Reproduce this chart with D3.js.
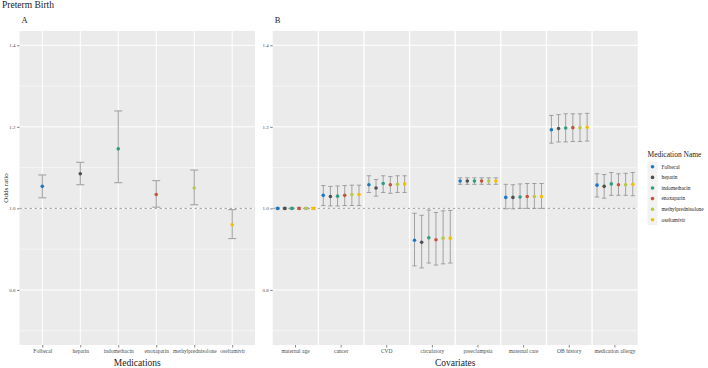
<!DOCTYPE html>
<html>
<head>
<meta charset="utf-8">
<script src="https://cdn.jsdelivr.net/npm/d3@7"></script>
<style>
    body { margin: 0; background: #ffffff; }
    svg { display: block; font-family: "Liberation Serif", "DejaVu Serif", serif; }
</style>
</head>
<body>
<div id="chart"></div>
<script>
// Panel A: odds ratio per medication
const medications = ["Folbecal", "heparin", "indomethacin", "enoxaparin", "methylprednisolone", "oseltamivir"];
const medOR = [1.054, 1.085, 1.146, 1.034, 1.050, 0.960];
const medLower = [1.026, 1.058, 1.063, 1.003, 1.009, 0.926];
const medUpper = [1.082, 1.113, 1.239, 1.068, 1.094, 0.997];

// Panel B: odds ratio per covariate, one value per medication (same order as above)
const covariates = ["maternal age", "cancer", "CVD", "circulatory", "preeclampsia", "maternal care", "OB history", "medication allergy"];
const covOR = [
    [1.000, 1.000, 1.000, 1.000, 1.000, 1.000],
    [1.032, 1.029, 1.030, 1.032, 1.034, 1.034],
    [1.058, 1.050, 1.061, 1.058, 1.059, 1.060],
    [0.922, 0.917, 0.928, 0.923, 0.927, 0.927],
    [1.067, 1.067, 1.067, 1.067, 1.067, 1.067],
    [1.027, 1.027, 1.028, 1.029, 1.029, 1.029],
    [1.193, 1.196, 1.197, 1.198, 1.198, 1.199],
    [1.057, 1.054, 1.060, 1.058, 1.058, 1.059]
];
const covLower = [
    [0.998, 0.998, 0.998, 0.998, 0.998, 0.998],
    [1.007, 1.006, 1.006, 1.007, 1.007, 1.007],
    [1.039, 1.030, 1.039, 1.037, 1.039, 1.039],
    [0.859, 0.854, 0.866, 0.861, 0.864, 0.866],
    [1.059, 1.059, 1.059, 1.059, 1.059, 1.059],
    [0.999, 0.999, 1.000, 1.000, 1.000, 1.000],
    [1.160, 1.163, 1.163, 1.164, 1.164, 1.165],
    [1.028, 1.025, 1.032, 1.032, 1.032, 1.031]
];
const covUpper = [
    [1.002, 1.002, 1.002, 1.002, 1.002, 1.002],
    [1.056, 1.054, 1.055, 1.056, 1.057, 1.057],
    [1.080, 1.071, 1.080, 1.078, 1.080, 1.080],
    [0.988, 0.983, 0.996, 0.990, 0.994, 0.995],
    [1.075, 1.075, 1.075, 1.075, 1.075, 1.075],
    [1.059, 1.058, 1.060, 1.061, 1.061, 1.061],
    [1.228, 1.230, 1.232, 1.232, 1.232, 1.233],
    [1.085, 1.083, 1.088, 1.085, 1.086, 1.088]
];

const yTicks = [0.8, 1.0, 1.2, 1.4];
const yMinor = [0.7, 0.9, 1.1, 1.3];
const medColors = ["#1f78c1", "#4f4f4f", "#2f9e7e", "#c4553b", "#b7c94a", "#f2c000"];

const width = 708, height = 368;
const panelTop = 31, panelBottom = 345;

createChart();

function createChart() {
    const svg = d3.select("#chart").append("svg")
        .attr("width", width)
        .attr("height", height);

    const y = d3.scaleLinear().domain([0.665, 1.435]).range([panelBottom, panelTop]);
    const color = d3.scaleOrdinal().domain(medications).range(medColors);

    svg.append("text").attr("x", 2).attr("y", 8).attr("font-size", 9.5).attr("fill", "#222").text("Preterm Birth");

    drawPanelA(svg, y, color);
    drawPanelB(svg, y, color);
    drawLegend(svg, color);
}

//Helper Functions

function drawPanelBase(svg, x0, x1, y, label) {
    svg.append("rect")
        .attr("x", x0).attr("y", panelTop)
        .attr("width", x1 - x0).attr("height", panelBottom - panelTop)
        .attr("fill", "#ebebeb");

    svg.append("g").selectAll("line").data(yMinor).enter().append("line")
        .attr("x1", x0).attr("x2", x1)
        .attr("y1", d => y(d)).attr("y2", d => y(d))
        .attr("stroke", "#ffffff").attr("stroke-width", 0.5);

    svg.append("g").selectAll("line").data(yTicks).enter().append("line")
        .attr("x1", x0).attr("x2", x1)
        .attr("y1", d => y(d)).attr("y2", d => y(d))
        .attr("stroke", "#ffffff").attr("stroke-width", 1);

    // y axis
    const axis = svg.append("g")
        .attr("transform", `translate(${x0},0)`)
        .call(d3.axisLeft(y).tickValues(yTicks).tickFormat(d3.format(".1f")).tickSize(2.5).tickPadding(1.5))
        .attr("font-family", null);
    axis.select(".domain").remove();
    axis.selectAll("line").attr("stroke", "#333").attr("stroke-width", 0.6);
    axis.selectAll("text").attr("font-size", 5).attr("fill", "#4d4d4d");

    svg.append("text")
        .attr("x", x0 + 2).attr("y", panelTop - 8)
        .attr("font-size", 8.5).attr("fill", "#222")
        .text(label);
}

function drawReference(svg, x0, x1, y) {
    svg.append("line")
        .attr("x1", x0).attr("x2", x1)
        .attr("y1", y(1)).attr("y2", y(1))
        .attr("stroke", "#7a7a7a").attr("stroke-width", 0.7)
        .attr("stroke-dasharray", "2.5,2.5");
}

function drawPanelA(svg, y, color) {
    const x0 = 19.5, x1 = 255;
    drawPanelBase(svg, x0, x1, y, "A");

    const x = d3.scalePoint().domain(medications).range([x0, x1]).padding(0.6);

    svg.append("g").selectAll("line").data(medications).enter().append("line")
        .attr("x1", d => x(d)).attr("x2", d => x(d))
        .attr("y1", panelTop).attr("y2", panelBottom)
        .attr("stroke", "#ffffff").attr("stroke-width", 1);

    drawReference(svg, x0, x1, y);

    const rows = medications.map((m, i) => ({ name: m, or: medOR[i], lo: medLower[i], hi: medUpper[i], x: x(m) }));
    drawErrorBars(svg, rows, y, color, 4, "#a3a3a3", 1.1);

    const axis = svg.append("g")
        .attr("transform", `translate(0,${panelBottom})`)
        .call(d3.axisBottom(x).tickSize(2.5).tickPadding(1.5));
    styleXAxis(axis);

    svg.append("text")
        .attr("x", (x0 + x1) / 2).attr("y", 366)
        .attr("text-anchor", "middle")
        .attr("font-size", 9.5).attr("fill", "#222")
        .text("Medications");
}

function drawPanelB(svg, y, color) {
    const x0 = 272.7, x1 = 637.7;
    drawPanelBase(svg, x0, x1, y, "B");

    const band = d3.scaleBand().domain(covariates).range([x0, x1]);
    const inner = d3.scalePoint().domain(medications).range([0, band.bandwidth()]).padding(0.69);

    svg.append("g").selectAll("line").data(covariates.slice(1)).enter().append("line")
        .attr("x1", d => band(d)).attr("x2", d => band(d))
        .attr("y1", panelTop).attr("y2", panelBottom)
        .attr("stroke", "#ffffff").attr("stroke-width", 1.3);

    drawReference(svg, x0, x1, y);

    const rows = [];
    covariates.forEach((c, ci) => {
        medications.forEach((m, mi) => {
            rows.push({ name: m, or: covOR[ci][mi], lo: covLower[ci][mi], hi: covUpper[ci][mi], x: band(c) + inner(m) });
        });
    });
    drawErrorBars(svg, rows, y, color, 2.2, "#8f8f8f", 0.8);

    const axis = svg.append("g")
        .attr("transform", `translate(0,${panelBottom})`)
        .call(d3.axisBottom(band).tickSize(2.5).tickPadding(1.5));
    styleXAxis(axis);

    svg.append("text")
        .attr("x", (x0 + x1) / 2).attr("y", 366)
        .attr("text-anchor", "middle")
        .attr("font-size", 9.5).attr("fill", "#222")
        .text("Covariates");

    svg.append("text")
        .attr("transform", `translate(8,${(panelTop + panelBottom) / 2}) rotate(-90)`)
        .attr("text-anchor", "middle")
        .attr("font-size", 7).attr("fill", "#222")
        .text("Odds ratio");
}

function styleXAxis(axis) {
    axis.attr("font-family", null);
    axis.select(".domain").remove();
    axis.selectAll("line").attr("stroke", "#333").attr("stroke-width", 0.6);
    axis.selectAll("text").attr("font-size", 5.5).attr("fill", "#4d4d4d");
}

function drawErrorBars(svg, rows, y, color, cap, stroke, sw) {
    const g = svg.append("g").selectAll("g").data(rows).enter().append("g");

    g.append("line")
        .attr("x1", d => d.x).attr("x2", d => d.x)
        .attr("y1", d => y(d.lo)).attr("y2", d => y(d.hi))
        .attr("stroke", stroke).attr("stroke-width", sw);
    g.append("line")
        .attr("x1", d => d.x - cap).attr("x2", d => d.x + cap)
        .attr("y1", d => y(d.lo)).attr("y2", d => y(d.lo))
        .attr("stroke", stroke).attr("stroke-width", sw);
    g.append("line")
        .attr("x1", d => d.x - cap).attr("x2", d => d.x + cap)
        .attr("y1", d => y(d.hi)).attr("y2", d => y(d.hi))
        .attr("stroke", stroke).attr("stroke-width", sw);
    g.append("circle")
        .attr("cx", d => d.x).attr("cy", d => y(d.or))
        .attr("r", 1.8)
        .attr("fill", d => color(d.name));
}

function drawLegend(svg, color) {
    const lx = 647.5, ly = 157;
    svg.append("text")
        .attr("x", lx).attr("y", ly)
        .attr("font-size", 7.5).attr("fill", "#222")
        .text("Medication Name");

    const key = svg.append("g").selectAll("g").data(medications).enter().append("g")
        .attr("transform", (d, i) => `translate(${lx},${ly + 4.5 + i * 10.6})`);

    key.append("rect")
        .attr("width", 10).attr("height", 10.6)
        .attr("fill", "#f2f2f2");
    key.append("circle")
        .attr("cx", 5).attr("cy", 5.3).attr("r", 1.8)
        .attr("fill", d => color(d));
    key.append("text")
        .attr("x", 14).attr("y", 7.2)
        .attr("font-size", 5.3).attr("fill", "#222")
        .text(d => d);
}
</script>
</body>
</html>
